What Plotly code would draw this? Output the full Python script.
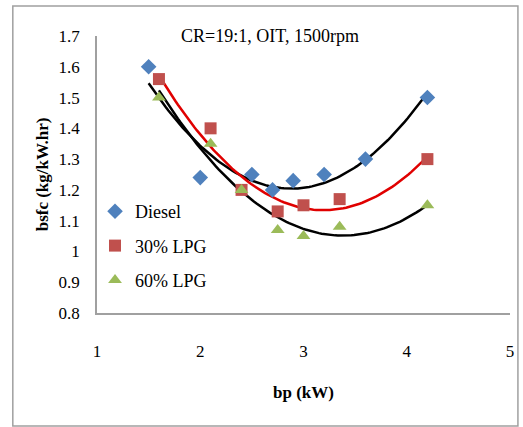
import numpy as np
import plotly.graph_objects as go

# Data
diesel_x = [1.5, 2.0, 2.5, 2.7, 2.9, 3.2, 3.6, 4.2]
diesel_y = [1.60, 1.24, 1.25, 1.20, 1.23, 1.25, 1.30, 1.50]
lpg30_x = [1.6, 2.1, 2.4, 2.75, 3.0, 3.35, 4.2]
lpg30_y = [1.56, 1.40, 1.20, 1.13, 1.15, 1.17, 1.30]
lpg60_x = [1.6, 2.1, 2.4, 2.75, 3.0, 3.35, 4.2]
lpg60_y = [1.50, 1.35, 1.20, 1.07, 1.05, 1.08, 1.15]

series = [
    ("Diesel", diesel_x, diesel_y, "#4F81BD", "diamond", "black"),
    ("30% LPG", lpg30_x, lpg30_y, "#C0504D", "square", "#E00000"),
    ("60% LPG", lpg60_x, lpg60_y, "#9BBB59", "triangle-up", "black"),
]

W, H = 523, 427
L, R, T, B = 97, 9, 36, 114
serif = "Liberation Serif"

fig = go.Figure()
for i, (name, xs, ys, col, sym, tcol) in enumerate(series):
    c = np.polyfit(xs, ys, 2)
    xx = np.linspace(min(xs), max(xs), 100)
    fig.add_trace(go.Scatter(x=xx, y=np.polyval(c, xx), mode="lines",
                             line=dict(color=tcol, width=2.5), showlegend=False,
                             hoverinfo="skip"))
for i, (name, xs, ys, col, sym, tcol) in enumerate(series):
    fig.add_trace(go.Scatter(x=xs, y=ys, mode="markers", name=name,
                             legendgroup=name,
                             marker=dict(symbol=sym, size=12, color=col)))

pw = W - L - R
ph = H - T - B
def px2paper_x(p):
    return (p - L) / pw
def px2paper_y(p):
    return (H - B - p) / ph

fig.update_layout(
    width=W, height=H,
    margin=dict(l=L, r=R, t=T, b=B),
    paper_bgcolor="white", plot_bgcolor="white",
    font=dict(family=serif, size=15, color="black"),
    title=dict(text="CR=19:1, OIT, 1500rpm", x=270 / W,
               xanchor="center", y=1 - 36 / H, yanchor="middle",
               font=dict(size=18, family=serif, color="black")),
    xaxis=dict(range=[1, 5], dtick=1, showgrid=False, zeroline=False,
               showline=True, linecolor="#A0A0A0", linewidth=1.5,
               ticks="", ticklabelstandoff=22,
               tickfont=dict(size=17, family=serif),
               title=dict(text="<b>bp (kW)</b>", standoff=26,
                          font=dict(size=17, family=serif))),
    yaxis=dict(range=[0.8, 1.7], dtick=0.1, showgrid=False, zeroline=False,
               showline=True, linecolor="#A0A0A0", linewidth=1.5,
               ticks="", ticklabelstandoff=12, tickformat="~g",
               tickfont=dict(size=17, family=serif),
               title=dict(text="<b>bsfc (kg/kW.hr)</b>", standoff=6,
                          font=dict(size=17, family=serif))),
    legend=dict(x=px2paper_x(95), y=px2paper_y(193), xanchor="left", yanchor="top",
                bgcolor="rgba(0,0,0,0)", font=dict(size=18, family=serif),
                traceorder="grouped", tracegroupgap=8, itemwidth=30),
    shapes=[dict(type="rect", xref="paper", yref="paper",
                 x0=px2paper_x(12), x1=px2paper_x(522),
                 y0=px2paper_y(426), y1=px2paper_y(6),
                 line=dict(color="#A0A0A0", width=1.5), layer="below")],
)

fig.write_html("out.html")
